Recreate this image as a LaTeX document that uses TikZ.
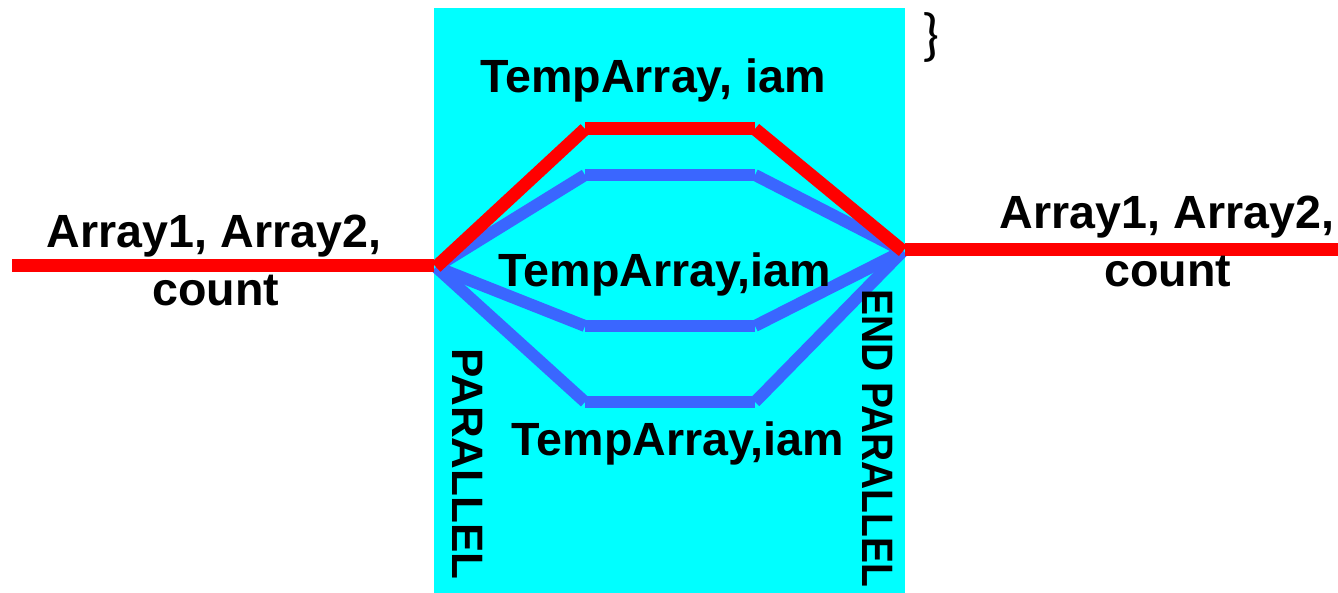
\documentclass[tikz,border=0pt]{standalone}
\usepackage{fontspec}
\setmainfont{Liberation Sans}
\newfontfamily\bracefont{Carlito}
\definecolor{bgcyan}{HTML}{00FFFF}
\definecolor{flowred}{HTML}{FF0000}
\definecolor{flowblue}{HTML}{3A66FF}
\begin{document}
\begin{tikzpicture}[x=1pt,y=-1pt,
  redflow/.style={draw=flowred,line width=13pt,line cap=butt},
  blueflow/.style={draw=flowblue,line width=12pt,line cap=butt},
  lbl/.style={font=\fontsize{46.6}{50}\selectfont\bfseries,inner sep=0pt,anchor=base,text=black},
  vlbl/.style={font=\fontsize{44}{48}\selectfont\bfseries,inner sep=0pt,anchor=base west,rotate=-90,text=black}]
\useasboundingbox (0,0) rectangle (1338,593);
\clip (0,0) rectangle (1338,593);
\fill[bgcyan] (434,8) rectangle (905,593);
% junction points
\coordinate (L) at (436,267);
\coordinate (R) at (903,251);
\coordinate (lin) at (12,266);
\coordinate (rout) at (1338,250);
\coordinate (r1) at (585,129);
\coordinate (r2) at (755,129);
\coordinate (b1a) at (585,175);
\coordinate (b1b) at (755,175);
\coordinate (b2a) at (585,326);
\coordinate (b2b) at (755,326);
\coordinate (b3a) at (585,402);
\coordinate (b3b) at (755,402);
% blue branches
\draw[blueflow] (L) -- (b1a); \draw[blueflow] (b1a) -- (b1b); \draw[blueflow] (b1b) -- (R);
\draw[blueflow] (L) -- (b2a); \draw[blueflow] (b2a) -- (b2b); \draw[blueflow] (b2b) -- (R);
\draw[blueflow] (L) -- (b3a); \draw[blueflow] (b3a) -- (b3b); \draw[blueflow] (b3b) -- (R);
% red flow
\draw[redflow] (lin) -- (434,266);
\draw[redflow] (L) -- (r1); \draw[redflow] (r1) -- (r2); \draw[redflow] (r2) -- (R);
\draw[redflow] (905,250) -- (rout);
% labels
\node[lbl] (t1) at (653,93) {TempArray, iam};
\node[lbl] (t2) at (665,287) {TempArray,iam};
\node[lbl] (t3) at (678,455) {TempArray,iam};
\node[lbl] (in1) at (214,248) {Array1, Array2,};
\node[lbl] (in2) at (216,306) {count};
\node[lbl] (out1) at (1167,229) {Array1, Array2,};
\node[lbl] (out2) at (1168,287) {count};
\node[vlbl] (par) at (452,348) {PARALLEL};
\node[vlbl,xscale=0.885] (epar) at (862,289) {END PARALLEL};
\node[inner sep=0pt,font=\bracefont\fontsize{58}{62}\selectfont] (br) at (931,37) {\}};
\end{tikzpicture}
\end{document}
